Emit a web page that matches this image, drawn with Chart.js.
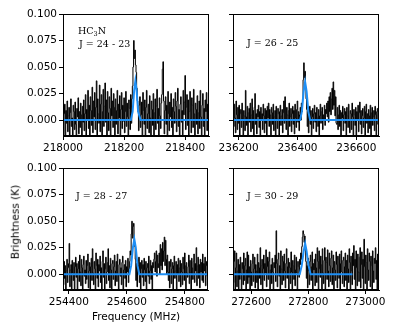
<!DOCTYPE html>
<html>
<head>
<meta charset="utf-8">
<script src="https://cdn.jsdelivr.net/npm/chart.js@4"></script>
<style>
  body { margin: 0; background: #fff; }
  #wrap { position: relative; width: 399px; height: 332px; font-family: "DejaVu Sans", sans-serif; }
  canvas { position: absolute; }
  .note { position: absolute; font-family: "DejaVu Serif", serif; font-size: 9.5px; line-height: 1; white-space: nowrap; color: #000; }
  .note sub { font-size: 6.5px; vertical-align: -2px; }
  .axlbl { position: absolute; font-size: 10.5px; line-height: 1; white-space: nowrap; transform: translate(-50%, -50%); color: #000; }
</style>
</head>
<body>
<div id="wrap">
  <canvas id="c1" width="215" height="160" style="left:0;top:0"></canvas>
  <canvas id="c2" width="184" height="160" style="left:215px;top:0"></canvas>
  <canvas id="c3" width="215" height="172" style="left:0;top:160px"></canvas>
  <canvas id="c4" width="184" height="172" style="left:215px;top:160px"></canvas>

  <div class="note" style="left:78px;top:26px">HC<sub>3</sub>N</div>
  <div class="note" style="left:79px;top:39px">J = 24 - 23</div>
  <div class="note" style="left:247px;top:38px">J = 26 - 25</div>
  <div class="note" style="left:76px;top:191px">J = 28 - 27</div>
  <div class="note" style="left:247px;top:191px">J = 30 - 29</div>
  <div class="axlbl" style="left:136px;top:316px">Frequency (MHz)</div>
  <div class="axlbl" style="left:15px;top:222px;transform:translate(-50%,-50%) rotate(-90deg)">Brightness (K)</div>
</div>
<script>
// -----------------------------------------------------------------------------
// channel spacing (MHz) and spectra in mK
const CHAN = 2;

const spec1Start = 218000;
const spec1 = [
  27, -14, 6, 15, -20, 9, -3, 18, -11, 4, 12, -18, 7, 20, -6, 2, -16, 14, 8, -9,
  17, -4, -19, 11, 3, 21, -13, 8, -7, 16, 5, -22, 13, -2, 19, -10, 6, 24, -15, 10,
  1, 28, -8, 14, -17, 22, 9, -5, 31, -12, 18, 3, 26, -9, 12, 37, -14, 20, 6, -3,
  33, -11, 15, 24, -18, 8, 29, -6, 13, 35, -2, 19, -15, 27, 7, -10, 22, 11, -20, 30,
  4, 18, -7, 25, 12, -16, 20, -4, 9, 28, -13, 15, 2, 23, -19, 10, 26, -8, 14, -1,
  21, -12, 8, 27, -6, 16, 3, -17, 19, 11, -9, 24, -3, 20, 32, 50, 75, 58, 66, 52,
  45, 30, 18, 8, -10, 14, 22, -7, 5, 17, -15, 26, 9, -4, 19, -18, 12, 28, -8, 6,
  15, -12, 23, 2, -20, 18, 10, -5, 25, -14, 7, 20, -9, 13, 29, -3, 11, -17, 21, 4,
  -8, 16, 24, 48, 55, 18, -13, 9, 22, -4, 14, -19, 27, 6, -10, 17, 3, 25, -7, 12,
  -16, 20, 8, -3, 26, 13, -11, 18, 30, -6, 10, -21, 15, 22, -2, 9, -14, 28, 5, 17,
  42, -9, 12, 24, -5, 19, -15, 8, 27, 1, -12, 21, 14, -7, 29, 6, -18, 16, 10, -4,
  23, -13, 7, 18, -8, 28, 3, -16, 14, 25, -6, 11, -20, 19, 8, 26, -10, 15, -3, 20
];

const spec2Start = 236182;
const spec2 = [
  8, -6, 15, 2, -12, 18, 5, -9, 12, -3, 14, -15, 6, 10, -7, 16, 1, -18, 9, 4,
  -10, 28, 3, -5, 13, -14, 7, 11, -2, 16, -11, 5, 20, -8, 9, -16, 12, 25, -4, 6,
  -13, 10, 3, 14, -7, 8, -17, 12, 0, 6, -9, 15, 4, -12, 11, -3, 9, -19, 13, 2,
  16, -6, 10, 5, -14, 12, 7, -4, 15, -10, 3, 9, -16, 13, 1, -8, 11, 6, -20, 8,
  14, -5, 4, 10, -12, 7, 18, -3, 22, 0, -9, 12, 5, -15, 9, 16, -6, 3, 11, -11,
  6, 13, -4, 9, -13, 15, 2, -7, 10, 18, -2, 8, -10, 5, 12, 0, 16, 8, 20, 38,
  54, 40, 46, 30, 20, 10, -6, 8, -12, 5, 13, -4, 9, -15, 3, 11, -8, 6, 14, -2,
  7, -11, 12, 2, -6, 10, -14, 4, 15, -3, 8, 12, -9, 5, 1, 14, -5, 10, 6, 16,
  3, 18, -2, 22, 8, 26, 5, 20, 30, 10, 36, 14, 28, 4, 22, -3, -4, 12, -9, 5,
  14, -6, 9, -16, 7, 2, 13, -10, 5, 11, -3, 8, -18, 12, 4, -7, 15, 0, -12, 9,
  6, -9, 16, 3, -14, 10, 5, -5, 12, -20, 8, 1, 14, -11, 7, 17, -4, 9, -13, 4,
  11, -7, 2, 13, -16, 8, 15, -3, 6, -12, 10, 4, -8, 14, -19, 7, 12, -5, 3, 9,
  -10, 13, 5, -14, 8, 11, -4, 6
];

const spec3Start = 254380;
const spec3 = [
  5, -10, 12, -4, 8, -15, 3, 14, -8, 6, 10, 29, -12, 4, 9, -18, 13, 1, -6, 11,
  -14, 7, 16, -3, 10, -19, 5, 12, -7, 18, 2, -11, 14, 6, -16, 9, 17, -2, 4, -9,
  13, -5, 8, 19, -13, 3, 11, -20, 7, 15, -6, 24, 1, -10, 12, 5, -15, 20, 8, -4,
  14, -12, 9, 3, 17, -8, 6, -17, 12, 22, -3, 10, -14, 5, 16, -9, 2, 11, 24, -6,
  8, -13, 15, 4, -18, 10, 13, -5, 7, 18, -11, 3, 12, -7, 19, 0, -15, 9, 14, -2,
  6, -10, 11, 17, -16, 4, 9, -4, 13, -12, 7, 2, 15, -8, 5, 12, 22, 18, 38, 50,
  34, 45, 48, 30, 26, 14, -6, 10, -12, 8, 2, 16, -8, 11, -17, 5, 13, -3, 9, -11,
  15, 4, -7, 12, -14, 6, 10, -2, 17, -9, 3, 13, -5, 8, -16, 11, 6, 14, 20, 2,
  12, 22, -2, 18, 6, 10, 20, 0, 28, 8, 24, 4, 30, 12, 22, 35, 8, 32, 14, 0,
  18, 2, -6, 12, -13, 7, 14, -9, 5, 11, -15, 8, 17, -4, 3, 12, -18, 9, 0, 15,
  -7, 6, 13, -12, 10, 2, -10, 16, 5, -6, 20, 8, -14, 11, 1, -3, 7, 18, -9, 13,
  1, -16, 15, 6, -5, 12, 19, -8, 10, 3, 25, -11, 8, 16, -4, 9, -13, 14, 2, 11,
  -6, 19, -8, 10, 3, 16, -11, 8, 12, -2
];

const spec4Start = 272536;
const spec4 = [
  18, -8, 12, 22, -15, 6, 20, -12, 3, 14, -18, 9, -5, 16, 1, -20, 11, 5, -10, 20,
  -6, 8, 15, -14, 4, 21, -9, 18, -3, 7, -17, 13, 2, -11, 10, 19, -7, 5, 16, -13,
  9, 3, -8, 19, -16, 11, 6, -4, 25, -10, 8, 14, -19, 5, 18, -6, 10, 1, 23, -12,
  7, 16, -5, 12, 21, -14, 4, 9, -9, 15, 2, -17, 11, 6, 18, -7, 41, 10, -12, 14,
  20, -2, 8, -15, 22, 5, -10, 17, 12, -6, 19, 3, -13, 10, 24, -4, 7, 15, -18, 11,
  6, -9, 21, 2, -14, 13, 8, -5, 18, -11, 4, 16, 1, -17, 12, 7, -3, 14, 9, 20,
  14, 26, 35, 41, 38, 30, 36, 22, 12, -4, 8, -13, 15, 3, -10, 12, 18, -6, 7, 21,
  -15, 10, 4, 14, -11, 19, 6, -8, 25, 12, -16, 22, 5, -3, 17, 9, -14, 24, 1, -9,
  13, 25, -18, 16, 11, -5, 23, 3, -12, 20, 8, -7, 15, 22, -10, 6, 18, -15, 12, 4,
  -6, 21, 9, -13, 17, 14, -4, 19, -17, 10, 22, 2, -9, 13, 16, -12, 7, 20, -6, 13,
  -19, 18, 5, -8, 24, 11, -14, 17, 3, -10, 20, 8, 27, -5, 14, -16, 22, 6, -11, 19,
  2, -7, 16, 25, -13, 9, 21, -4, 14, -18, 33, 7, -9, 18, 11, -15, 24, 4, -6, 20,
  12, -12, 17, 8, -16, 22, 3, -8, 15, 10, 25, -5, 13, -14, 19, 6
];

// gaussian fits (blue), mK
const fit1Freq = [218000, 218222, 218228, 218233, 218237, 218241, 218246, 218254, 218478];
const fit1Val  = [0, 0, 8, 28, 37, 28, 8, 0, 0];
const fit2Freq = [236181, 236409, 236415, 236421, 236426, 236431, 236437, 236443, 236677];
const fit2Val  = [0, 0, 8, 27, 36, 27, 8, 0, 0];
const fit3Freq = [254380, 254609, 254615, 254621, 254626, 254631, 254637, 254643, 254880];
const fit3Val  = [0, 0, 8, 25, 33, 25, 8, 0, 0];
const fit4Freq = [272536, 272770, 272777, 272784, 272789, 272794, 272801, 272808, 272955];
const fit4Val  = [0, 0, 8, 22, 29, 22, 8, 0, 0];

// axis ticks
const yTicks = [0, 0.025, 0.05, 0.075, 0.1];
const x1Ticks = [218000, 218200, 218400];
const x2Ticks = [236200, 236400, 236600];
const x3Ticks = [254400, 254600, 254800];
const x4Ticks = [272600, 272800, 273000];
// -----------------------------------------------------------------------------

const frame = {
  id: "frame",
  afterDraw(chart) {
    const a = chart.chartArea;
    const c = chart.ctx;
    c.save();
    c.strokeStyle = "#000";
    c.lineWidth = 1;
    c.strokeRect(Math.round(a.left) + 0.5, Math.round(a.top) + 0.5,
      Math.round(a.right - a.left) - 1, Math.round(a.bottom - a.top) - 1);
    c.restore();
  },
};

function makePanel(id, p) {
  const spectrum = p.spec.map((v, i) => ({ x: p.start + i * CHAN, y: v / 1000 }));
  const fit = p.fitFreq.map((f, i) => ({ x: f, y: p.fitVal[i] / 1000 }));
  const tickFont = { family: "DejaVu Sans", size: 10.5 };
  const grid = { display: true, drawOnChartArea: false, drawTicks: true, tickLength: 4, color: "#000", lineWidth: 1 };

  new Chart(document.getElementById(id), {
    type: "line",
    data: {
      datasets: [
        { data: fit, borderColor: "#1e8ff5", borderWidth: 2, pointRadius: 0, order: 0 },
        { data: spectrum, borderColor: "#000", borderWidth: 1, pointRadius: 0, stepped: "middle", order: 1 },
      ],
    },
    options: {
      responsive: false,
      animation: false,
      events: [],
      layout: { padding: { top: p.padTop, right: p.padRight, bottom: p.padBottom, left: 0 } },
      plugins: { legend: { display: false }, tooltip: { enabled: false } },
      scales: {
        x: {
          type: "linear",
          min: p.xmin,
          max: p.xmax,
          afterBuildTicks: (s) => { s.ticks = p.xTicks.map((v) => ({ value: v })); },
          afterFit: (s) => { s.height = 24; },
          grid: grid,
          border: { display: true, color: "#000", width: 1 },
          ticks: { color: "#000", font: tickFont, padding: 2, maxRotation: 0, autoSkip: false, callback: (v) => String(v) },
        },
        y: {
          type: "linear",
          min: -0.015,
          max: 0.1,
          afterBuildTicks: (s) => { s.ticks = yTicks.map((v) => ({ value: v })); },
          afterFit: (s) => { s.width = p.yw; },
          grid: grid,
          border: { display: true, color: "#000", width: 1 },
          ticks: { color: "#000", font: tickFont, padding: 2, autoSkip: false, callback: (v) => (p.showY ? v.toFixed(3) : "") },
        },
      },
    },
    plugins: [frame],
  });
}

makePanel("c1", { spec: spec1, start: spec1Start, fitFreq: fit1Freq, fitVal: fit1Val, xTicks: x1Ticks,
  xmin: 218000, xmax: 218478, yw: 63, padTop: 14, padRight: 6, padBottom: 0, showY: true });
makePanel("c2", { spec: spec2, start: spec2Start, fitFreq: fit2Freq, fitVal: fit2Val, xTicks: x2Ticks,
  xmin: 236181, xmax: 236677, yw: 18, padTop: 14, padRight: 20, padBottom: 0, showY: false });
makePanel("c3", { spec: spec3, start: spec3Start, fitFreq: fit3Freq, fitVal: fit3Val, xTicks: x3Ticks,
  xmin: 254380, xmax: 254880, yw: 63, padTop: 7, padRight: 7, padBottom: 18, showY: true });
makePanel("c4", { spec: spec4, start: spec4Start, fitFreq: fit4Freq, fitVal: fit4Val, xTicks: x4Ticks,
  xmin: 272536, xmax: 273048, yw: 18, padTop: 7, padRight: 20, padBottom: 18, showY: false });
</script>
</body>
</html>
